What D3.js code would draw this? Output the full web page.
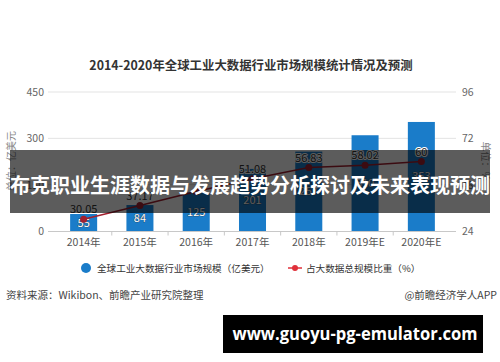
<!DOCTYPE html>
<html>
<head>
<meta charset="utf-8">
<script src="https://cdn.jsdelivr.net/npm/d3@7"></script>
<style>
  html, body { margin: 0; padding: 0; background: #fff; }
  svg { display: block; font-family: "Noto Sans CJK SC", "Noto Sans", sans-serif; }
</style>
</head>
<body>
<svg id="chart" width="500" height="362"></svg>
<script>
// ---- data ----
const categories = ["2014年", "2015年", "2016年", "2017年", "2018年", "2019年E", "2020年E"];
const marketSize = [55, 84, 125, 201, 257, 310, 353];          // 亿美元
const shareValues = [30.05, 37.17, 44.46, 51.08, 56.83, 58.02, 60]; // %
const shareLabels = ["30.05", "37.17", "", "51.08", "56.83", "58.02", "60"];
const leftTicks = [0, 150, 300, 450];
const rightTicks = [24, 48, 72, 96];
const titleText = "2014-2020年全球工业大数据行业市场规模统计情况及预测";
const legendNames = ["全球工业大数据行业市场规模（亿美元）", "占大数据总规模比重（%）"];
const leftAxisTitle = "单位：亿美元";
const rightAxisTitle = "单位：%";
const sourceText = "资料来源：Wikibon、前瞻产业研究院整理";
const creditText = "@前瞻经济学人APP";
const bannerText = "布克职业生涯数据与发展趋势分析探讨及未来表现预测";
const urlText = "www.guoyu-pg-emulator.com";

// ---- setup ----
const svg = d3.select("#chart");
const BLUE = "#1a7cc9", LINE = "#a3202f";

const x = d3.scaleBand().domain(categories).range([55.5, 449.5])
  .paddingInner(0.52).paddingOuter(0.26);
const yL = d3.scaleLinear().domain([0, 450]).range([231, 92]);
const yR = d3.scaleLinear().domain([24, 96]).range([231, 92]);

// title
svg.append("text").attr("x", 251).attr("y", 70).attr("text-anchor", "middle")
  .attr("font-size", 12.4).attr("font-weight", "bold").attr("fill", "#333").text(titleText);

// gridlines
svg.append("g").selectAll("line").data(leftTicks.slice(1)).join("line")
  .attr("x1", 48).attr("x2", 456)
  .attr("y1", d => yL(d)).attr("y2", d => yL(d))
  .attr("stroke", "#e3e3e3").attr("stroke-width", 1);

// left tick labels
svg.append("g").selectAll("text").data(leftTicks).join("text")
  .attr("x", 44).attr("y", d => yL(d) + 4).attr("text-anchor", "end")
  .attr("font-size", 10.5).attr("fill", "#666").text(d => d);

// right tick labels
svg.append("g").selectAll("text").data(rightTicks).join("text")
  .attr("x", 462).attr("y", d => yR(d) + 4).attr("text-anchor", "start")
  .attr("font-size", 10.5).attr("fill", "#666").text(d => d);

// axis titles
svg.append("text").attr("transform", "translate(15,161) rotate(-90)")
  .attr("text-anchor", "middle").attr("font-size", 10).attr("fill", "#888").text(leftAxisTitle);
svg.append("text").attr("transform", "translate(482,161) rotate(90)")
  .attr("text-anchor", "middle").attr("font-size", 10).attr("fill", "#888").text(rightAxisTitle);

// bars
svg.append("g").selectAll("rect").data(marketSize).join("rect")
  .attr("x", (d, i) => x(categories[i]))
  .attr("y", d => yL(d))
  .attr("width", x.bandwidth())
  .attr("height", d => yL(0) - yL(d))
  .attr("fill", BLUE);

// x axis line and ticks
const axisG = svg.append("g");
axisG.append("line").attr("x1", 48).attr("x2", 456).attr("y1", 231.5).attr("y2", 231.5)
  .attr("stroke", "#c8c8c8");
axisG.selectAll("line.tick").data(categories.slice(1)).join("line").attr("class", "tick")
  .attr("x1", d => x(d) - x.step() * x.paddingInner() / 2)
  .attr("x2", d => x(d) - x.step() * x.paddingInner() / 2)
  .attr("y1", 231.5).attr("y2", 235.5).attr("stroke", "#c8c8c8");
axisG.selectAll("text").data(categories).join("text")
  .attr("x", d => x(d) + x.bandwidth() / 2).attr("y", 246)
  .attr("text-anchor", "middle").attr("font-size", 10.5).attr("fill", "#555").text(d => d);

// bar labels
svg.append("g").selectAll("text").data(marketSize).join("text")
  .attr("x", (d, i) => x(categories[i]) + x.bandwidth() / 2)
  .attr("y", d => (yL(d) + yL(0)) / 2 + 4)
  .attr("text-anchor", "middle").attr("font-size", 11)
  .attr("fill", "#fff").attr("stroke", "#333").attr("stroke-width", 0.6)
  .attr("paint-order", "stroke").text(d => d);

// line
const line = d3.line()
  .x((d, i) => x(categories[i]) + x.bandwidth() / 2)
  .y(d => yR(d));
svg.append("path").datum(shareValues).attr("d", line)
  .attr("fill", "none").attr("stroke", LINE).attr("stroke-width", 1.5);
svg.append("g").selectAll("circle").data(shareValues).join("circle")
  .attr("cx", (d, i) => x(categories[i]) + x.bandwidth() / 2)
  .attr("cy", d => yR(d)).attr("r", 3.5).attr("fill", LINE);
svg.append("g").selectAll("text").data(shareValues).join("text")
  .attr("x", (d, i) => x(categories[i]) + x.bandwidth() / 2)
  .attr("y", d => yR(d) - 6)
  .attr("text-anchor", "middle").attr("font-size", 11)
  .attr("fill", "#333").attr("stroke", "#fff").attr("stroke-width", 2)
  .attr("paint-order", "stroke").text((d, i) => shareLabels[i]);

// legend
const lg = svg.append("g");
lg.append("circle").attr("cx", 86).attr("cy", 268).attr("r", 5).attr("fill", BLUE);
lg.append("text").attr("x", 97).attr("y", 272).attr("font-size", 9.6).attr("fill", "#333").text(legendNames[0]);
lg.append("line").attr("x1", 288).attr("x2", 302).attr("y1", 268).attr("y2", 268)
  .attr("stroke", "#e0303a").attr("stroke-width", 1.5);
lg.append("circle").attr("cx", 295).attr("cy", 268).attr("r", 3).attr("fill", "#e0303a");
lg.append("text").attr("x", 306).attr("y", 272).attr("font-size", 9.6).attr("fill", "#333").text(legendNames[1]);

// source / credit
svg.append("text").attr("x", 6).attr("y", 299).attr("font-size", 10.5).attr("fill", "#444").text(sourceText);
svg.append("text").attr("x", 497).attr("y", 299).attr("text-anchor", "end")
  .attr("font-size", 10.5).attr("fill", "#444").text(creditText);

// overlay banner
svg.append("rect").attr("x", 10).attr("y", 150).attr("width", 480).attr("height", 63)
  .attr("fill", "#000").attr("fill-opacity", 0.64);
svg.append("text").attr("x", 250).attr("y", 193).attr("text-anchor", "middle")
  .attr("font-size", 20).attr("font-weight", "bold").attr("fill", "#fff").text(bannerText);

// url bar
svg.append("rect").attr("x", 223).attr("y", 315).attr("width", 260).attr("height", 38).attr("fill", "#000");
svg.append("text").attr("x", 355).attr("y", 340).attr("text-anchor", "middle")
  .attr("font-size", 17).attr("font-weight", "bold").attr("fill", "#fff")
  .attr("textLength", 245).attr("lengthAdjust", "spacingAndGlyphs")
  .attr("font-family", "'Open Sans', 'DejaVu Sans', sans-serif").text(urlText);
</script>
</body>
</html>
